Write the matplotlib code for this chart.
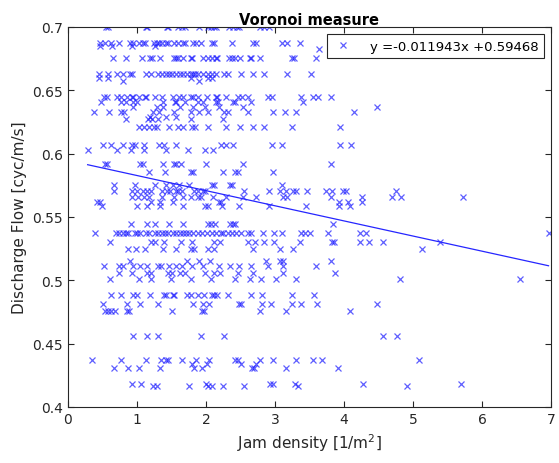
import matplotlib.pyplot as plt
import numpy as np

# slope / intercept of the fitted line
slope = -0.011943
intercept = 0.59468

# data, grouped by flow band: (flow value, list of densities)
bands = [
    (0.700, [0.544, 0.585, 1.129, 1.145, 1.44, 1.455, 1.595, 1.647, 1.698, 1.906, 2.035, 2.076,
             2.113, 2.139, 2.336, 2.398, 2.45, 2.476, 2.786, 2.838, 2.916]),
    (0.6875, [0.466, 0.533, 0.627, 0.741, 0.906, 0.937, 1.025, 1.088, 1.113, 1.248, 1.284, 1.321,
              1.362, 1.414, 1.455, 1.543, 1.595, 1.662, 1.699, 1.818, 1.854, 1.932, 2.087, 2.113,
              2.372, 2.683, 2.719, 3.097, 3.175, 3.366]),
    (0.685, [0.466, 0.637, 0.932, 1.258]),
    (0.683, [3.641]),
    (0.6757, [0.653, 0.844, 1.067, 1.196, 1.218, 1.336, 1.543, 1.569, 1.595, 1.662, 1.776, 1.802,
              1.958, 2.035, 2.087, 2.139, 2.165, 2.336, 2.372, 2.424, 2.491, 2.631, 2.657, 2.786,
              3.252, 3.278, 3.589]),
    (0.663, [0.445, 0.575, 0.704, 0.803, 0.906, 0.922, 1.129, 1.206, 1.300, 1.362, 1.414, 1.466,
             1.507, 1.569, 1.621, 1.673, 1.725, 1.776, 1.818, 1.839, 1.880, 1.958, 2.035, 2.087,
             2.139, 2.268, 2.320, 2.501, 2.683, 2.838, 3.175, 3.522]),
    (0.660, [0.445, 0.575, 1.776, 2.035, 2.087]),
    (0.657, [0.803, 1.906]),
    (0.645, [0.518, 0.559, 0.704, 0.767, 0.855, 0.922, 0.948, 1.025, 1.113, 1.129, 1.258, 1.362,
             1.517, 1.610, 1.673, 1.776, 1.818, 1.880, 2.009, 2.139, 2.165, 2.294, 2.460, 2.527,
             2.605, 2.905, 2.957, 3.371, 3.548, 3.625, 3.806]),
    (0.641, [0.482, 0.767, 0.844, 0.937, 0.999, 1.372, 1.554, 1.569, 1.699, 1.880, 1.958, 2.149,
             2.180, 2.398, 2.424, 2.657, 3.408]),
    (0.637, [0.948, 1.284, 1.372, 1.621, 1.818, 1.984, 2.191, 2.543, 4.480]),
    (0.633, [0.378, 0.596, 0.767, 0.818, 1.232, 1.321, 1.533, 1.776, 1.906, 2.035, 2.268, 2.320,
             2.615, 2.967, 3.149, 3.304, 4.143]),
    (0.629, [1.196, 1.414, 1.569]),
    (0.627, [0.844, 1.155, 1.217, 1.300, 1.776, 2.253]),
    (0.6207, [1.025, 1.103, 1.181, 1.248, 1.284, 1.466, 1.595, 1.673, 1.802, 1.839, 2.035, 2.294,
              2.491, 2.683, 2.838, 3.242, 3.936]),
    (0.6072, [0.508, 0.627, 0.792, 0.922, 0.974, 1.103, 1.321, 1.388, 1.569, 2.216, 2.284, 2.398,
              2.957, 3.107, 3.941, 4.107]),
    (0.603, [0.285, 0.715, 0.911, 1.103, 1.424, 1.740, 1.984, 2.103]),
    (0.5917, [0.533, 0.559, 1.051, 1.093, 1.372, 1.533, 1.569, 1.631, 1.999, 2.543, 3.812]),
    (0.5856, [1.181, 1.403, 1.776, 1.818, 2.253, 2.424, 2.460, 2.967]),
    (0.575, [0.663, 0.974, 1.258, 1.414, 1.517, 1.610, 1.750, 2.087, 2.113, 2.346, 2.372, 3.097]),
    (0.5708, [0.663, 0.922, 0.999, 1.093, 1.145, 1.207, 1.362, 1.440, 1.481, 1.569, 1.595, 1.647,
              1.828, 1.890, 1.958, 1.984, 2.553, 2.916, 3.071, 3.164, 3.268, 3.304, 3.460, 3.744,
              3.822, 3.988, 4.029, 4.754]),
    (0.566, [0.922, 1.010, 1.103, 1.181, 1.362, 1.543, 1.673, 1.776, 1.880, 1.932, 2.103, 2.294,
             2.543, 2.719, 3.123, 3.175, 3.807, 4.262, 4.702, 4.832, 5.722]),
    (0.562, [0.419, 0.471, 1.207, 1.336, 1.517, 2.191, 2.216, 3.925, 4.055, 4.262]),
    (0.5585, [0.497, 0.999, 1.145, 1.336, 1.662, 1.984, 2.035, 2.232, 2.475, 2.916, 3.449, 3.925,
              4.081]),
    (0.5447, [0.911, 1.145, 1.258, 1.466, 1.673, 2.035, 2.076, 2.128, 2.346, 2.387, 2.424, 3.848]),
    (0.5377, [0.388, 0.689, 0.741, 0.792, 0.844, 0.870, 0.974, 0.999, 1.051, 1.129, 1.181, 1.258,
              1.310, 1.362, 1.403, 1.455, 1.517, 1.569, 1.621, 1.673, 1.714, 1.750, 1.818, 1.880,
              1.942, 2.009, 2.087, 2.149, 2.216, 2.242, 2.320, 2.372, 2.439, 2.501, 2.605, 2.657,
              2.822, 2.993, 3.097, 3.371, 3.434, 3.511, 3.770, 4.236, 4.314, 6.965]),
    (0.530, [0.611, 1.207, 1.258, 1.388, 1.631, 1.802, 2.113, 2.201, 2.605, 2.708, 2.838, 2.993,
             3.356, 3.822, 3.859, 4.236, 4.365, 4.573, 5.385]),
    (0.5248, [0.870, 0.989, 1.113, 1.372, 1.569, 1.776, 1.828, 2.035, 2.113, 2.683, 3.071, 3.268,
              5.132]),
    (0.515, [0.906, 1.724, 1.906, 2.061, 2.864, 3.071, 3.112, 3.817]),
    (0.511, [0.518, 0.741, 0.792, 0.948, 1.051, 1.145, 1.300, 1.351, 1.466, 1.569, 1.647, 1.802,
             1.958, 2.191, 2.346, 2.475, 2.646, 2.905, 3.123, 3.589]),
    (0.506, [0.741, 0.922, 1.145, 1.207, 1.455, 1.507, 1.621, 1.699, 1.984, 2.113, 2.201, 2.460,
             2.683, 3.123, 3.874]),
    (0.5007, [0.611, 1.025, 1.207, 1.491, 1.776, 2.076, 2.424, 2.631, 2.796, 3.009, 3.304, 4.806,
              6.551]),
    (0.4886, [0.627, 0.767, 0.937, 0.999, 1.196, 1.388, 1.414, 1.517, 1.543, 1.724, 1.776, 1.880,
              1.973, 2.087, 2.113, 2.165, 2.320, 2.657, 2.812, 3.252, 3.563]),
    (0.481, [0.508, 0.855, 1.051, 1.300, 1.818, 1.958, 2.046, 2.475, 2.501, 2.812, 2.941, 3.252,
             3.371, 3.615, 4.485]),
    (0.4757, [0.533, 0.585, 0.627, 0.678, 0.855, 0.886, 1.502, 1.947, 1.973, 2.786, 3.164, 4.081]),
    (0.456, [0.948, 1.145, 1.300, 1.921, 2.268, 4.573, 4.770]),
    (0.437, [0.352, 0.767, 1.129, 1.351, 1.414, 1.455, 1.647, 1.854, 2.046, 2.424, 2.460, 2.786,
             2.978, 3.304, 3.553, 3.677, 5.091]),
    (0.434, [1.802, 2.009, 2.501, 2.719]),
    (0.431, [0.663, 0.870, 1.025, 1.336, 1.828, 1.942, 2.667, 2.698, 3.164, 3.910]),
    (0.4185, [0.922, 1.062, 1.994, 2.926, 2.967, 3.288, 4.272, 5.702]),
    (0.4163, [1.232, 1.295, 1.761, 2.035, 2.087, 2.253, 2.553, 3.340, 4.920]),
]

density = []
flow = []
for f, xs in bands:
    density += xs
    flow += [f] * len(xs)
density = np.array(density)
flow = np.array(flow)

fig = plt.figure(figsize=(5.59, 4.64), dpi=100)
ax = fig.add_axes([0.1216, 0.1207, 0.864, 0.819])

lbl = 'y =%gx +%g' % (slope, intercept)
ax.plot(density, flow, 'x', color=(0.1, 0.1, 1.0), alpha=0.7, ms=5, mew=0.9, label=lbl)
xl = np.array([density.min(), density.max()])
ax.plot(xl, slope * xl + intercept, '-', color=(0.15, 0.15, 1.0), lw=0.9)

ax.set_xlim(0, 7)
ax.set_ylim(0.4, 0.7)
ax.set_xticks(range(8))
yt = [0.4, 0.45, 0.5, 0.55, 0.6, 0.65, 0.7]
ax.set_yticks(yt)
ax.set_yticklabels(['0.4', '0.45', '0.5', '0.55', '0.6', '0.65', '0.7'])
ax.tick_params(direction='in', top=True, right=True, labelsize=10, colors='0.15', length=4)
for s in ax.spines.values():
    s.set_color('0.15')
    s.set_linewidth(0.8)

ax.set_title('Voronoi measure', fontsize=10.5, fontweight='bold', pad=2)
ax.set_xlabel('Jam density [1/m$^2$]', fontsize=11, color='0.15')
ax.set_ylabel('Discharge Flow [cyc/m/s]', fontsize=11, color='0.15')

leg = ax.legend(loc='upper right', fontsize=9.5, fancybox=False, framealpha=1,
                edgecolor='0.15', handlelength=1.6, handletextpad=1.2, borderpad=0.45)
leg.get_frame().set_linewidth(0.8)

fig.savefig('out.png')
